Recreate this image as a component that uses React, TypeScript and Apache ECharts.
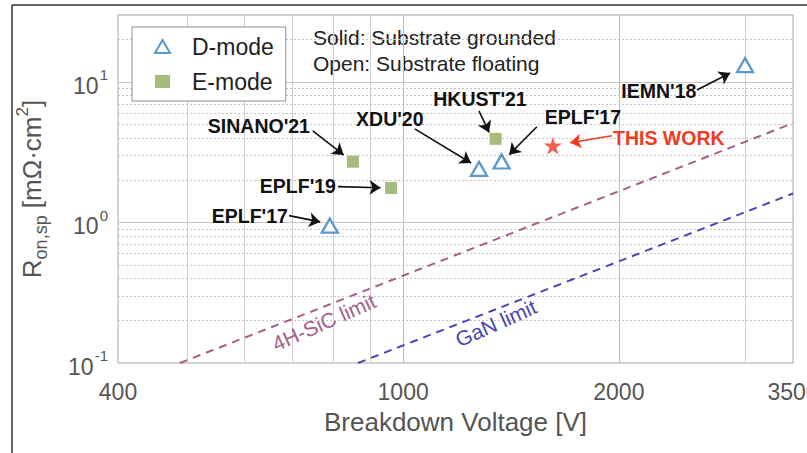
import React, { useEffect, useRef } from 'react';
import * as echarts from 'echarts';

// ---- data (breakdown voltage [V], Ron,sp [mOhm·cm²]) ----
const dModeData = [[790, 0.95], [1276, 2.41], [1372, 2.72], [3000, 13.2]];
const eModeData = [[851, 2.71], [962, 1.76], [1346, 3.94]];
const thisWorkData = [[1618, 3.52]];
const sicLimit = [[488, 0.1], [3500, 5.1]];
const ganLimit = [[865, 0.1], [3500, 1.61]];

// axis ticks
const xLabelTicks = [400, 1000, 2000, 3500];
const xGridValues = [500, 600, 700, 800, 900, 1000, 2000, 3000];
const yLabelTicks = [0.1, 1, 10];
const yLabelExponents = ['-1', '0', '1'];
const yMinorValues = [0.2, 0.3, 0.4, 0.5, 0.6, 0.7, 0.8, 0.9, 2, 3, 4, 5, 6, 7, 8, 9, 20];

// annotations
const annotationNames = ["SINANO'21", "EPLF'19", "EPLF'17", "XDU'20", "HKUST'21", "EPLF'17", 'THIS WORK', "IEMN'18"];
const annotationTextPos = [[629, 4.87], [713, 1.83], [611, 1.12], [958, 5.47], [1280, 7.58], [1782, 5.65], [2348, 4.01], [2274, 8.64]];
const arrowFrom = [[748, 4.49], [811, 1.8], [693, 1.12], [1038, 4.64], [1276, 6.23], [1537, 4.8], [1956, 4.14], [2570, 8.78]];
const arrowTo = [[826, 3.03], [930, 1.77], [766, 1.01], [1244, 2.65], [1318, 4.38], [1406, 3.04], [1710, 3.7], [2860, 11.6]];
const limitNames = ['4H-SiC limit', 'GaN limit'];
const limitLabelPos = [[775, 0.195], [1347, 0.192]];

const FONT = '"Liberation Sans", Arial, Helvetica, sans-serif';
const SIC_COLOR = '#a65f88';
const GAN_COLOR = '#4646b4';
const RED = '#ee3b25';
const STAR = 'path://M50,0 L61.2,34.5 L97.6,34.5 L68.2,55.9 L79.4,90.5 L50,69.1 L20.6,90.5 L31.8,55.9 L2.4,34.5 L38.8,34.5 Z';

export default function App() {
  const ref = useRef<HTMLDivElement>(null);
  useEffect(() => {
    document.body.style.margin = '0';
    if (!ref.current) return;
    const chart = echarts.init(ref.current, null, { renderer: 'svg' });

    const gridMarkLines: any[] = [];
    xGridValues.forEach((v) => {
      gridMarkLines.push({
        xAxis: v,
        lineStyle: { color: v === 1000 || v === 2000 ? '#c2baba' : '#d4cccc', type: 'solid', width: 1 },
        label: { show: false },
      });
    });
    xLabelTicks.forEach((v) => {
      gridMarkLines.push({
        xAxis: v,
        lineStyle: { color: 'rgba(0,0,0,0)', width: 1 },
        label: {
          show: true, position: 'start', distance: 17, formatter: String(v),
          fontSize: 23, color: '#555', fontFamily: FONT,
        },
      });
    });
    yMinorValues.forEach((v) => {
      gridMarkLines.push({
        yAxis: v,
        lineStyle: { color: '#c4c4c4', type: [2, 2], width: 1 },
        label: { show: false },
      });
    });
    yLabelTicks.forEach((v, i) => {
      gridMarkLines.push({
        yAxis: v,
        lineStyle: { color: v === 0.1 ? 'rgba(0,0,0,0)' : '#c8c4c4', type: 'solid', width: 1 },
        label: {
          show: true, position: 'start', distance: 10,
          formatter: '{b|10}{s|' + yLabelExponents[i] + '}',
          rich: {
            b: { fontSize: 23, color: '#555', fontFamily: FONT, lineHeight: 30, verticalAlign: 'bottom' },
            s: { fontSize: 15, color: '#555', fontFamily: FONT, lineHeight: 30, verticalAlign: 'top', padding: [0, 0, 0, 1] },
          },
        },
      });
    });

    const arrowLines = arrowFrom.map((f, i) => [
      { coord: f, lineStyle: { color: i === 6 ? RED : '#111' }, itemStyle: { color: i === 6 ? RED : '#111' } },
      { coord: arrowTo[i], itemStyle: { color: i === 6 ? RED : '#111' } },
    ]);

    const textPoints = annotationNames.map((n, i) => ({
      name: n,
      coord: annotationTextPos[i],
      label: { color: i === 6 ? RED : '#111' },
    }));
    const limitPoints = limitNames.map((n, i) => ({
      name: n,
      coord: limitLabelPos[i],
      label: { color: i === 0 ? SIC_COLOR : GAN_COLOR, fontWeight: 'normal', fontSize: 21, rotate: 24 },
    }));

    chart.setOption({
      animation: false,
      backgroundColor: '#fff',
      grid: { left: 118, top: 15, right: 14, bottom: 90, show: true, borderColor: '#a9a3a3', borderWidth: 1, backgroundColor: 'transparent', containLabel: false },
      xAxis: {
        type: 'log', logBase: 10, min: 400, max: 3500,
        axisLine: { show: false }, axisTick: { show: false }, axisLabel: { show: false }, splitLine: { show: false },
        name: 'Breakdown Voltage [V]', nameLocation: 'middle', nameGap: 46,
        nameTextStyle: { fontSize: 26, color: '#555', fontFamily: FONT },
      },
      yAxis: {
        type: 'log', logBase: 10, min: 0.1, max: 30,
        axisLine: { show: false }, axisTick: { show: false }, axisLabel: { show: false }, splitLine: { show: false },
        name: '{r|R}{sub|on,sp}{r| [mΩ·cm}{sup|2}{r|]}', nameLocation: 'middle', nameGap: 68, nameRotate: 90,
        nameTextStyle: {
          rich: {
            r: { fontSize: 26, color: '#555', fontFamily: FONT, lineHeight: 36, verticalAlign: 'middle' },
            sub: { fontSize: 18, color: '#555', fontFamily: FONT, lineHeight: 36, verticalAlign: 'bottom' },
            sup: { fontSize: 17, color: '#555', fontFamily: FONT, lineHeight: 36, verticalAlign: 'top' },
          },
        },
      },
      legend: {
        data: [
          { name: 'D-mode', icon: 'triangle' },
          { name: 'E-mode', icon: 'rect' },
        ],
        orient: 'vertical', left: 132, top: 27,
        padding: [8, 12, 8, 22], itemGap: 12, itemWidth: 15, itemHeight: 13,
        borderColor: '#8f8f8f', borderWidth: 1, backgroundColor: '#fff',
        textStyle: { fontSize: 23, color: '#222', fontFamily: FONT, padding: [0, 0, 0, 17] },
      },
      graphic: [
        { type: 'line', shape: { x1: 12, y1: 5, x2: 807, y2: 5 }, style: { stroke: '#333', lineWidth: 1.5 } },
        { type: 'line', shape: { x1: 12, y1: 5, x2: 12, y2: 453 }, style: { stroke: '#333', lineWidth: 1.5 } },
        { type: 'text', left: 313, top: 27, style: { text: 'Solid: Substrate grounded', fontSize: 21, fill: '#222', fontFamily: FONT } },
        { type: 'text', left: 313, top: 53, style: { text: 'Open: Substrate floating', fontSize: 21, fill: '#222', fontFamily: FONT } },
      ],
      series: [
        {
          name: 'grid-helper', type: 'line', data: [], silent: true, clip: false,
          markLine: { silent: true, symbol: ['none', 'none'], animation: false, data: gridMarkLines, z: 0 },
          z: 0,
        },
        {
          name: '4H-SiC limit', type: 'line', data: sicLimit, showSymbol: false, silent: true,
          lineStyle: { color: SIC_COLOR, width: 2, type: [8, 6] }, z: 2,
        },
        {
          name: 'GaN limit', type: 'line', data: ganLimit, showSymbol: false, silent: true,
          lineStyle: { color: GAN_COLOR, width: 2, type: [8, 6] }, z: 2,
        },
        {
          name: 'annotations', type: 'line', data: [], silent: true, clip: false, z: 4,
          markLine: {
            silent: true, symbol: ['none', 'arrow'], symbolSize: 11, animation: false,
            lineStyle: { color: '#111', width: 1.6, type: 'solid' }, label: { show: false },
            itemStyle: { color: '#111' },
            data: arrowLines,
          },
          markPoint: {
            silent: true, symbol: 'rect', symbolSize: 1, itemStyle: { color: 'rgba(0,0,0,0)' }, animation: false,
            label: { show: true, position: 'inside', formatter: '{b}', fontSize: 19.5, fontWeight: 'bold', fontFamily: FONT },
            data: [...textPoints, ...limitPoints],
          },
        },
        {
          name: 'D-mode', type: 'scatter', data: dModeData, symbol: 'triangle', symbolSize: [16, 14], z: 5,
          itemStyle: { color: '#ffffff', borderColor: '#2f80bf', borderWidth: 2.3 },
        },
        {
          name: 'E-mode', type: 'scatter', data: eModeData, symbol: 'rect', symbolSize: 12, z: 5,
          itemStyle: { color: '#8fab5d' },
        },
        {
          name: 'THIS WORK', type: 'scatter', data: thisWorkData, symbol: STAR, symbolSize: 18, z: 5,
          itemStyle: { color: RED },
        },
      ],
    });
    return () => chart.dispose();
  }, []);
  return <div ref={ref} style={{ width: 807, height: 453 }} />;
}
